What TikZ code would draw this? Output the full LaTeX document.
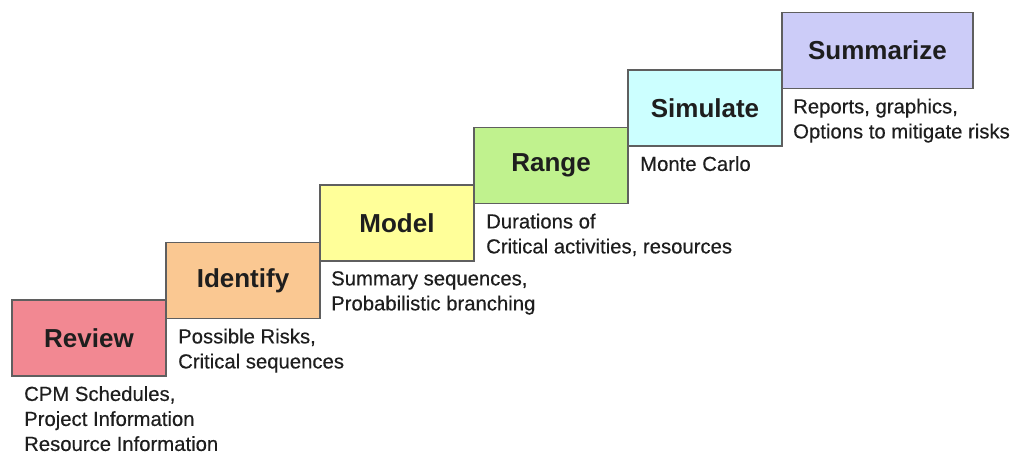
\documentclass[tikz,border=0pt]{standalone}
\usepackage{fontspec}
\usetikzlibrary{positioning}
\newfontfamily\titlefont{Liberation Sans}
\newfontfamily\notefont[FakeBold=0.4]{Liberation Sans}
\definecolor{reviewcol}{RGB}{242,136,146}
\definecolor{identifycol}{RGB}{250,200,146}
\definecolor{modelcol}{RGB}{255,255,153}
\definecolor{rangecol}{RGB}{192,242,142}
\definecolor{simulatecol}{RGB}{204,255,255}
\definecolor{summarizecol}{RGB}{204,204,248}
\definecolor{edgecol}{RGB}{95,95,95}
\definecolor{inkcol}{RGB}{30,30,30}

\begin{document}
\begin{tikzpicture}[stp/.style={draw=edgecol, line width=1.2pt, minimum width=154pt, minimum height=76pt, inner sep=0pt, outer sep=0pt, text=inkcol, font=\titlefont\fontsize{26}{30}\selectfont\bfseries},
 dsc/.style={anchor=north west, align=left, inner sep=0pt, text=inkcol, font=\notefont\fontsize{20.3}{25}\selectfont}]
\useasboundingbox (0,0) rectangle (1010pt,457pt);
% the steps
\node[stp, fill=reviewcol, anchor=south west] (review) at (12pt,81pt) {Review};
\node[stp, fill=identifycol, right=0pt of review, yshift=57.5pt] (identify) {Identify};
\node[stp, fill=modelcol, right=0pt of identify, yshift=57.5pt] (model) {Model};
\node[stp, fill=rangecol, right=0pt of model, yshift=57.5pt] (range) {Range};
\node[stp, fill=simulatecol, right=0pt of range, yshift=57.5pt] (simulate) {Simulate};
\node[stp, fill=summarizecol, minimum width=191pt, right=0pt of simulate, yshift=57.5pt] (summarize) {Summarize};
% notes under each step
\node[dsc] (reviewtxt) at ([shift={(12pt,-10pt)}]review.south west) {CPM Schedules,\\Project Information\\Resource Information};
\node[dsc] (identifytxt) at ([shift={(12pt,-10pt)}]identify.south west) {Possible Risks,\\Critical sequences};
\node[dsc] (modeltxt) at ([shift={(11pt,-10pt)}]model.south west) {Summary sequences,\\Probabilistic branching};
\node[dsc] (rangetxt) at ([shift={(12pt,-10pt)}]range.south west) {Durations of\\Critical activities, resources};
\node[dsc] (simulatetxt) at ([shift={(12pt,-10pt)}]simulate.south west) {Monte Carlo};
\node[dsc] (summarizetxt) at ([shift={(11pt,-10pt)}]summarize.south west) {Reports, graphics,\\Options to mitigate risks};
\end{tikzpicture}
\end{document}
